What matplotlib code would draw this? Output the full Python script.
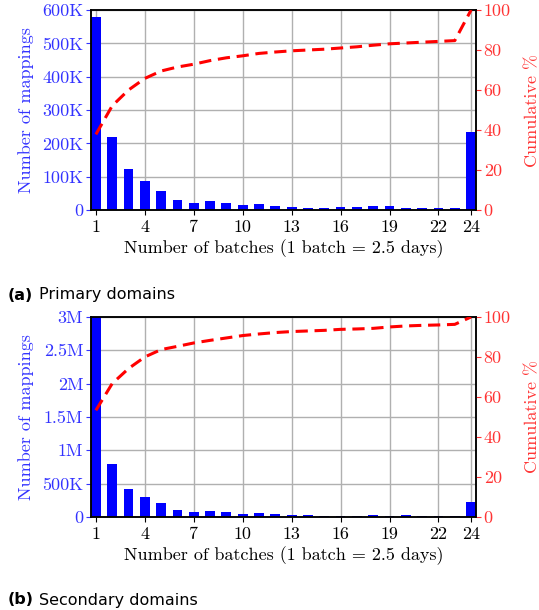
import matplotlib.pyplot as plt
import numpy as np

plt.rcParams['font.family'] = 'cmr10'
plt.rcParams['axes.formatter.use_mathtext'] = True

batches = list(range(1, 25))
xtick_pos = [1, 4, 7, 10, 13, 16, 19, 22, 24]

# (a) primary domains
primary_counts = [580e3, 220e3, 122e3, 88e3, 58e3, 31e3, 21e3, 28e3, 21e3, 14.5e3,
                  18e3, 11e3, 8e3, 5e3, 5e3, 8e3, 8e3, 11e3, 11e3, 5e3,
                  5e3, 5e3, 5e3, 235e3]
primary_cum = [37.8, 52.1, 60.0, 65.8, 69.5, 71.5, 72.9, 74.7, 76.1, 77.1,
               78.3, 79.0, 79.6, 80.0, 80.4, 81.0, 81.6, 82.4, 83.1, 83.5,
               83.9, 84.3, 84.7, 100.0]
primary_yticks = [0, 100e3, 200e3, 300e3, 400e3, 500e3, 600e3]
primary_ylabels = ['0', '100K', '200K', '300K', '400K', '500K', '600K']

# (b) secondary domains
secondary_counts = [3.15e6, 0.79e6, 0.415e6, 0.295e6, 0.205e6, 0.10e6, 0.07e6, 0.085e6,
                    0.07e6, 0.04e6, 0.055e6, 0.04e6, 0.025e6, 0.025e6, 0.015e6, 0.015e6,
                    0.015e6, 0.025e6, 0.015e6, 0.025e6, 0.015e6, 0.015e6, 0.015e6, 0.22e6]
secondary_cum = [53.3, 66.7, 74.2, 80.0, 83.7, 85.3, 87.0, 88.3, 89.5, 90.7,
                 91.5, 92.2, 92.7, 93.0, 93.3, 93.8, 94.0, 94.3, 95.0, 95.5,
                 95.8, 96.0, 96.3, 100.0]
secondary_yticks = [0, 0.5e6, 1e6, 1.5e6, 2e6, 2.5e6, 3e6]
secondary_ylabels = ['0', '500K', '1M', '1.5M', '2M', '2.5M', '3M']

cum_ticks = [0, 20, 40, 60, 80, 100]

fig = plt.figure(figsize=(5.39, 6.10), dpi=100)


def draw(rect, counts, cum, yticks, ylabels, caption_tag, caption_text, cap_y):
    ax = fig.add_axes(rect)
    ax.set_axisbelow(True)
    ax.grid(True, color='#b0b0b0', linewidth=1.0)
    ax.bar(batches, counts, width=0.6, color='#0000ff', zorder=2)
    ax.set_xlim(0.7, 24.3)
    ax.set_ylim(0, yticks[-1])
    ax.set_xticks(xtick_pos)
    ax.set_xticklabels([str(t) for t in xtick_pos], fontsize=13)
    ax.set_yticks(yticks)
    ax.set_yticklabels(ylabels, fontsize=13, color='#3333ff')
    ax.tick_params(axis='y', colors='#3333ff', labelcolor='#3333ff', pad=2)
    ax.set_ylabel('Number of mappings', fontsize=13, color='#3333ff', labelpad=6)
    ax.set_xlabel('Number of batches (1 batch = 2.5 days)', fontsize=13, labelpad=3)
    for s in ax.spines.values():
        s.set_linewidth(1.1)

    ax2 = ax.twinx()
    ax2.plot(batches, cum, color='#ff0000', linestyle='--', linewidth=2.2,
             dashes=(4, 2.2), zorder=3)
    ax2.set_ylim(0, 100)
    ax2.set_yticks(cum_ticks)
    ax2.set_yticklabels([str(t) for t in cum_ticks], fontsize=13, color='#ff3333')
    ax2.tick_params(axis='y', colors='#ff3333', labelcolor='#ff3333', pad=2)
    ax2.set_ylabel('Cumulative %', fontsize=13, color='#ff3333', labelpad=10)
    for s in ax2.spines.values():
        s.set_linewidth(1.1)

    fig.text(0.015, cap_y, caption_tag, fontsize=11.5, fontweight='bold',
             family='DejaVu Sans', va='center')
    fig.text(0.073, cap_y, caption_text, fontsize=11.5, family='DejaVu Sans', va='center')


draw([0.1688, 0.6557, 0.7143, 0.3279], primary_counts, primary_cum,
     primary_yticks, primary_ylabels, '(a)', 'Primary domains', 1 - 295 / 610)
draw([0.1688, 0.1525, 0.7143, 0.3279], secondary_counts, secondary_cum,
     secondary_yticks, secondary_ylabels, '(b)', 'Secondary domains', 1 - 600 / 610)

fig.savefig('out.png', dpi=100)
